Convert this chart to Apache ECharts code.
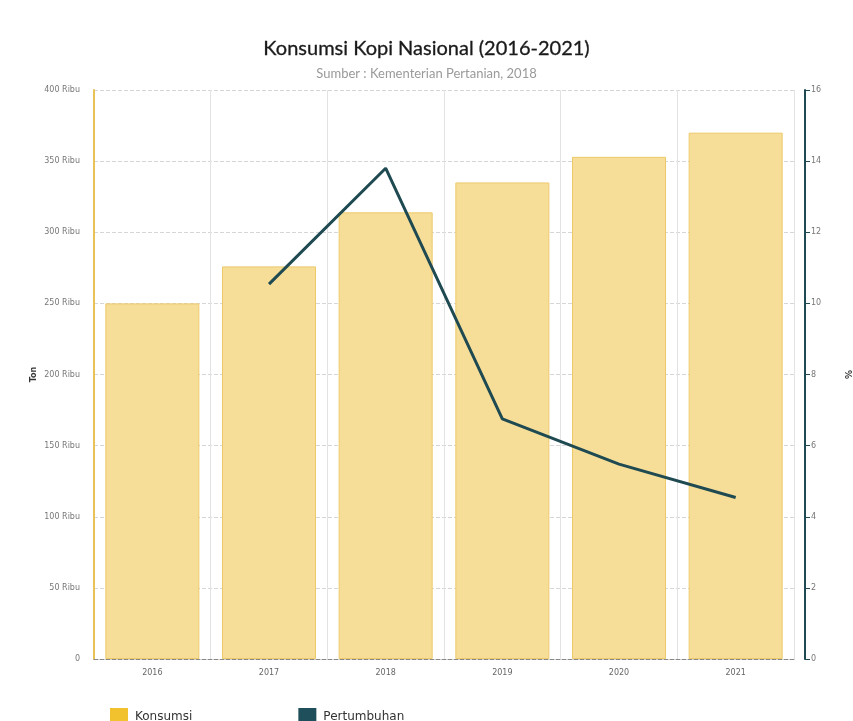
<!DOCTYPE html>
<html><head><meta charset="utf-8">
<script src="https://cdn.jsdelivr.net/npm/echarts@6/dist/echarts.min.js"></script>
<style>html,body{margin:0;padding:0;background:#fff;overflow:hidden}#c{width:853px;height:721px}</style>
</head><body><div id="c"></div>
<script>
const years = ['2016','2017','2018','2019','2020','2021'];
const konsumsi = [250000, 276000, 314000, 335000, 353000, 370000];
const pertumbuhan = [null, 10.54, 13.80, 6.75, 5.48, 4.54];

const chart = echarts.init(document.getElementById('c'));
chart.setOption({
  backgroundColor: '#fff',
  animation: false,
  title: [
    {text: 'Konsumsi Kopi Nasional (2016-2021)', left: 'center', top: 34,
     textStyle: {fontFamily: 'Lato', fontSize: 20, fontWeight: 'normal', color: '#1a1a1a', textBorderColor: '#1a1a1a', textBorderWidth: 0.3}},
    {text: 'Sumber : Kementerian Pertanian, 2018', left: 'center', top: 62,
     textStyle: {fontFamily: 'Lato', fontSize: 13, fontWeight: 'normal', color: '#9a9a9a'}}
  ],
  legend: {
    left: 105, top: 703, itemWidth: 18, itemHeight: 17, itemGap: 106, icon: 'rect',
    textStyle: {fontFamily: 'DejaVu Sans', fontSize: 12, color: '#333', padding: [0,0,0,2]},
    data: [
      {name: 'Konsumsi', itemStyle: {color: '#f2c12e', borderWidth: 0}},
      {name: 'Pertumbuhan', itemStyle: {color: '#1f4f5a', borderWidth: 0}}
    ]
  },
  grid: {left: 94, right: 59, top: 90, bottom: 62, containLabel: false, outerBoundsMode: 'none'},
  xAxis: {
    type: 'category', data: years,
    axisLine: {lineStyle: {color: '#888', type: 'dashed', width: 1}},
    axisTick: {show: false},
    axisLabel: {fontFamily: 'DejaVu Sans', fontSize: 8, color: '#666', margin: 10},
    splitLine: {show: true, lineStyle: {color: '#e3e3e3', width: 1}}
  },
  yAxis: [
    {type: 'value', min: 0, max: 400000, interval: 50000,
     name: 'Ton', nameLocation: 'middle', nameGap: 56, nameRotate: 90, nameMoveOverlap: false,
     nameTextStyle: {fontFamily: 'DejaVu Sans', fontSize: 8, fontWeight: 'bold', color: '#333'},
     axisLine: {show: true, lineStyle: {color: '#e8c254', width: 2}},
     axisTick: {show: false},
     axisLabel: {fontFamily: 'DejaVu Sans', fontSize: 8, color: '#777', margin: 14,
       formatter: v => v === 0 ? '0' : (v/1000) + ' Ribu'},
     splitLine: {show: true, lineStyle: {color: '#d6d6d6', type: 'dashed', width: 1}}
    },
    {type: 'value', min: 0, max: 16, interval: 2, position: 'right', offset: 11,
     name: '%', nameLocation: 'middle', nameGap: 38, nameRotate: -90, nameMoveOverlap: false,
     nameTextStyle: {fontFamily: 'DejaVu Sans', fontSize: 9, fontWeight: 'bold', color: '#333'},
     axisLine: {show: true, lineStyle: {color: '#1f4a52', width: 2}},
     axisTick: {show: true, length: 5, lineStyle: {color: '#1f4a52'}},
     axisLabel: {fontFamily: 'DejaVu Sans', fontSize: 8, color: '#777', margin: 6},
     splitLine: {show: false}
    }
  ],
  series: [
    {name: 'Konsumsi', type: 'bar', yAxisIndex: 0, data: konsumsi, barWidth: 94,
     itemStyle: {color: '#f6de99', borderColor: '#edc96a', borderWidth: 1},
     emphasis: {disabled: true}},
    {name: 'Pertumbuhan', type: 'line', yAxisIndex: 1, data: pertumbuhan,
     showSymbol: false, symbol: 'none', lineStyle: {color: '#1f4a52', width: 3},
     itemStyle: {color: '#1f4a52'}, connectNulls: false}
  ]
});
</script></body></html>
